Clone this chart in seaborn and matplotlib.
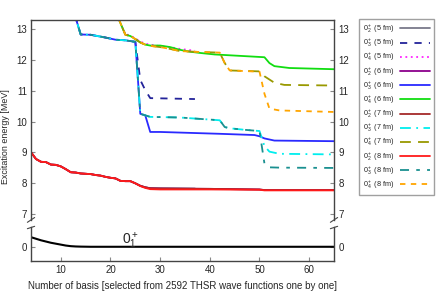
import matplotlib
matplotlib.use("Agg")
import matplotlib.pyplot as plt
import seaborn as sns

sns.set_style("white")
plt.rcParams['font.family'] = ['Liberation Sans', 'DejaVu Sans']
plt.rcParams['mathtext.fontset'] = 'custom'
plt.rcParams['mathtext.rm'] = 'Liberation Sans'
plt.rcParams['mathtext.it'] = 'Liberation Sans'

# --- data (x = number of basis) ---
# lowest states 0_2^+ (all radii collapse onto nearly the same curve)
x_low = [4, 5, 6, 7, 8, 9, 10, 11, 12, 13, 14, 15, 16, 17, 18, 19, 20, 21, 22, 23, 24, 25, 26, 27, 28, 30, 40, 50, 51, 65]
y_red = [9.00, 8.78, 8.69, 8.68, 8.60, 8.59, 8.54, 8.45, 8.35, 8.34, 8.31, 8.30, 8.29, 8.26, 8.24, 8.20, 8.17, 8.15, 8.07, 8.06,
         8.06, 7.99, 7.90, 7.84, 7.80, 7.79, 7.79, 7.78, 7.76, 7.76]
y_purple = [9.00, 8.78, 8.69, 8.68, 8.60, 8.59, 8.54, 8.45, 8.35, 8.34, 8.31, 8.30, 8.29, 8.26, 8.24, 8.20, 8.17, 8.15, 8.07, 8.06,
            8.06, 7.99, 7.91, 7.86, 7.83, 7.82, 7.81, 7.79, 7.77, 7.77]
x_gray = [4, 5, 6, 7, 8, 9, 10, 11, 12, 13, 14, 15, 16, 17, 18, 19, 20, 21, 22, 23, 24, 25, 26, 27, 28, 30, 37]
y_gray = [9.00, 8.78, 8.69, 8.68, 8.60, 8.59, 8.54, 8.45, 8.35, 8.34, 8.31, 8.30, 8.29, 8.26, 8.24, 8.20, 8.17, 8.15, 8.07, 8.06,
          8.06, 7.99, 7.91, 7.86, 7.83, 7.83, 7.82]

# 0_3^+ states
x_navy = [12, 14, 16, 18, 19, 21, 23, 25, 26, 27, 28, 37]
y_navy = [13.9, 12.83, 12.82, 12.76, 12.73, 12.66, 12.64, 12.59, 11.35, 11.02, 10.76, 10.73]
x_blue = [12, 14, 16, 18, 19, 21, 23, 25, 26, 27, 28, 30, 42, 49, 50, 51, 53, 65]
y_blue = [13.9, 12.83, 12.82, 12.76, 12.73, 12.66, 12.64, 12.59, 10.25, 10.20, 9.66, 9.66, 9.60, 9.56, 9.52, 9.45, 9.38, 9.36]
x_cyan = [12, 14, 16, 18, 19, 21, 23, 25, 26, 27, 28, 34, 42, 43, 44, 47, 50, 51, 52, 54, 65]
y_cyan = [13.9, 12.83, 12.82, 12.76, 12.73, 12.66, 12.64, 12.59, 10.25, 10.20, 10.15, 10.13, 10.04, 9.82, 9.78, 9.73, 9.69,
          9.20, 9.02, 8.95, 8.93]
y_teal = [13.9, 12.83, 12.82, 12.76, 12.73, 12.66, 12.64, 12.59, 10.25, 10.20, 10.15, 10.13, 10.04, 9.82, 9.78, 9.73, 9.69,
          8.63, 8.51, 8.50, 8.49]

# 0_4^+ states
x_magenta = [21, 22, 23, 24, 25, 26, 27, 28, 30, 32, 34, 37]
y_magenta = [13.6, 13.2, 12.84, 12.80, 12.70, 12.60, 12.53, 12.50, 12.45, 12.42, 12.36, 12.30]
x_green = [21, 22, 23, 24, 25, 26, 27, 28, 30, 32, 34, 36, 38, 41, 51, 52, 53, 56, 65]
y_green = [13.6, 13.2, 12.82, 12.78, 12.68, 12.57, 12.50, 12.47, 12.47, 12.42, 12.33, 12.27, 12.23, 12.18, 12.09, 11.90,
           11.80, 11.74, 11.70]
x_olive = [21, 22, 23, 24, 25, 26, 27, 28, 30, 32, 34, 38, 42, 43, 44, 50, 51, 53, 55, 65]
y_olive = [13.6, 13.2, 12.82, 12.78, 12.68, 12.57, 12.50, 12.46, 12.42, 12.36, 12.29, 12.26, 12.24, 11.90, 11.66, 11.63,
           11.47, 11.26, 11.19, 11.17]
x_orange = [21, 22, 23, 24, 25, 26, 27, 28, 30, 32, 34, 38, 42, 43, 44, 50, 51, 52, 54, 65]
y_orange = [13.6, 13.2, 12.82, 12.78, 12.68, 12.57, 12.50, 12.46, 12.42, 12.36, 12.29, 12.26, 12.24, 11.90, 11.66, 11.62,
            10.90, 10.42, 10.36, 10.31]

# ground state 0_1^+
x_ground = [4, 5, 6, 7, 8, 9, 10, 11, 12, 13, 14, 16, 65]
y_ground = [0.31, 0.26, 0.21, 0.17, 0.13, 0.10, 0.07, 0.04, 0.02, 0.01, 0.005, 0.0, 0.0]

series = [
    ("$0_2^+$ (5 fm)", x_gray, y_gray, "#7a7a8a", "-"),
    ("$0_3^+$ (5 fm)", x_navy, y_navy, "#23239a", (0, (4, 4))),
    ("$0_4^+$ (5 fm)", x_magenta, y_magenta, "#ff22ff", (0, (1, 2))),
    ("$0_2^+$ (6 fm)", x_low, y_purple, "#8b008b", "-"),
    ("$0_3^+$ (6 fm)", x_blue, y_blue, "#2a2aff", "-"),
    ("$0_4^+$ (6 fm)", x_green, y_green, "#11dd11", "-"),
    ("$0_2^+$ (7 fm)", x_low, y_purple, "#a52a2a", "-"),
    ("$0_3^+$ (7 fm)", x_cyan, y_cyan, "#00eeee", (0, (6, 3, 1, 3))),
    ("$0_4^+$ (7 fm)", x_olive, y_olive, "#999900", (0, (6, 4))),
    ("$0_2^+$ (8 fm)", x_low, y_red, "#ff1a1a", "-"),
    ("$0_3^+$ (8 fm)", x_cyan, y_teal, "#1a9090", (0, (5, 4, 2, 4))),
    ("$0_4^+$ (8 fm)", x_orange, y_orange, "#ffa500", (0, (3, 3))),
]

fig = plt.figure(figsize=(4.4, 3.08), dpi=100)
ax = fig.add_axes([0.0705, 0.286, 0.6886, 0.649])
axb = fig.add_axes([0.0705, 0.1526, 0.6886, 0.1104])

for label, xs, ys, color, ls in series:
    sns.lineplot(x=xs, y=ys, ax=ax, color=color, linestyle=ls, linewidth=1.3, label=label)

sns.lineplot(x=x_ground, y=y_ground, ax=axb, color="black", linewidth=1.5)
axb.text(22.3, 0.08, "$0_1^+$", fontsize=10)

spine_col = "#444444"
for a in (ax, axb):
    a.set_xlim(4, 65)
    for s in a.spines.values():
        s.set_color(spine_col)
        s.set_linewidth(1.0)
    a.tick_params(direction="in", left=True, right=True, labelleft=True, labelright=True,
                  labelsize=7, length=3, color="#888888", pad=3)

ax.set_ylim(6.8, 13.3)
ax.set_yticks([7, 8, 9, 10, 11, 12, 13])
ax.spines["bottom"].set_visible(False)
ax.tick_params(bottom=False, labelbottom=False)

axb.set_ylim(-0.46, 0.64)
axb.set_yticks([0])
axb.spines["top"].set_visible(False)
axb.set_xticks([10, 20, 30, 40, 50, 60])
axb.tick_params(bottom=True)

# break marks
d = 0.012
for xa in (0, 1):
    ax.plot([xa - d, xa + d], [-0.012, 0.012], transform=ax.transAxes, color=spine_col, lw=0.8, clip_on=False)
    axb.plot([xa - d, xa + d], [0.95, 1.02], transform=axb.transAxes, color=spine_col, lw=0.8, clip_on=False)

ax.set_ylabel("Excitation energy [MeV]", fontsize=6.4, labelpad=3)
ax.yaxis.set_label_coords(-0.07, 0.415)
axb.set_xlabel("Number of basis [selected from 2592 THSR wave functions one by one]", fontsize=7, labelpad=4)

handles, labels = ax.get_legend_handles_labels()
ax.legend(handles, labels, loc="upper left", bbox_to_anchor=(0.816, 0.938), bbox_transform=fig.transFigure,
          fontsize=5.2, markerfirst=False, handlelength=4.2, labelspacing=0.26, frameon=True,
          fancybox=False, edgecolor="#888888", borderpad=0.5, handletextpad=0.8, borderaxespad=0)

plt.savefig("out.png", dpi=100)
plt.close()
